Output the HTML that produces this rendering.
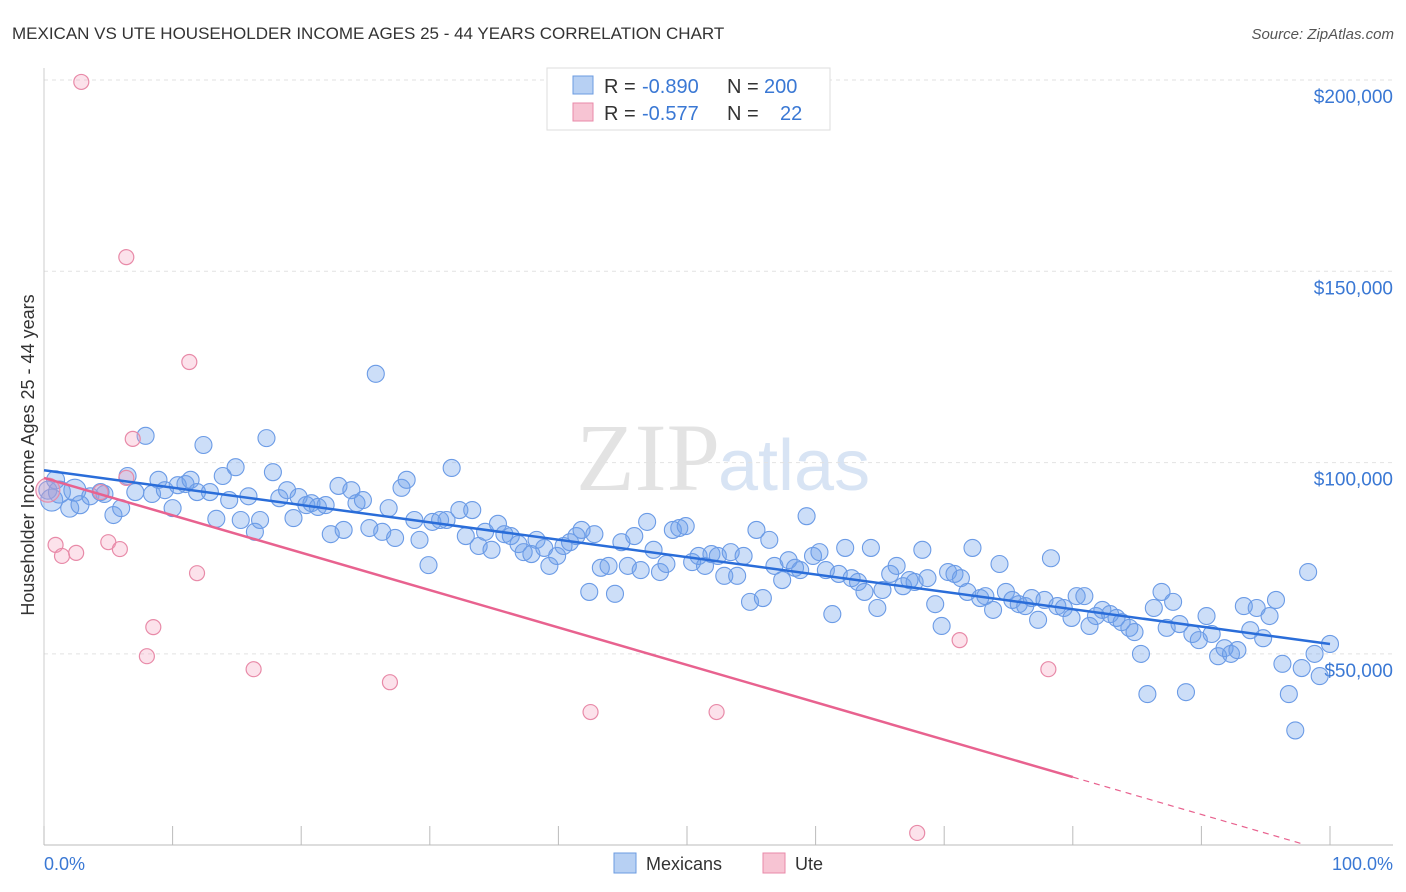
<!DOCTYPE html>
<html><head><meta charset="utf-8"><style>
body{margin:0;background:#fff;font-family:"Liberation Sans",sans-serif;}
svg{display:block}
</style></head><body>
<svg id="chart" width="1406" height="892">
<text x="12" y="39" font-size="17" fill="#333">MEXICAN VS UTE HOUSEHOLDER INCOME AGES 25 - 44 YEARS CORRELATION CHART</text>
<text x="1394" y="39" font-size="15" fill="#555" text-anchor="end" font-style="italic">Source: ZipAtlas.com</text>
<text x="720" y="490" font-size="96" fill="#e3e3e3" text-anchor="end" font-family="Liberation Serif">ZIP</text>
<text x="718" y="490" font-size="72" fill="#d8e4f4">atlas</text>
<g id="grid"></g>
<g id="axes"></g>
<g id="points"></g>
<g id="lines"></g>
<text transform="translate(34,455) rotate(-90)" font-size="18" fill="#333" text-anchor="middle">Householder Income Ages 25 - 44 years</text>
<text x="44" y="870" font-size="18" fill="#3a78d4">0.0%</text>
<text x="1393" y="870" font-size="18" fill="#3a78d4" text-anchor="end">100.0%</text>
<g>
<rect x="547" y="68" width="283" height="62" fill="#fff" stroke="#ddd"/>
<rect x="573" y="76" width="20" height="18" fill="#b7d0f3" stroke="#6b9be0"/>
<rect x="573" y="103" width="20" height="18" fill="#f7c4d3" stroke="#e88aa8"/>
<text y="93" font-size="20" fill="#333"><tspan x="604">R =</tspan><tspan x="642" fill="#3a78d4">-0.890</tspan><tspan x="727">N =</tspan><tspan x="764" fill="#3a78d4">200</tspan></text>
<text y="120" font-size="20" fill="#333"><tspan x="604">R =</tspan><tspan x="642" fill="#3a78d4">-0.577</tspan><tspan x="727">N =</tspan><tspan x="780" fill="#3a78d4">22</tspan></text>
</g>
<g>
<rect x="614" y="853" width="22" height="20" fill="#b7d0f3" stroke="#6b9be0"/>
<text x="646" y="870" font-size="18" fill="#333">Mexicans</text>
<rect x="763" y="853" width="22" height="20" fill="#f7c4d3" stroke="#e88aa8"/>
<text x="795" y="870" font-size="18" fill="#333">Ute</text>
</g>
</svg>
<script>
const yTicks=[50000,100000,150000,200000];
const yTickLabels=["$50,000","$100,000","$150,000","$200,000"];
const mexX=[0.3,0.6,0.9,1.2,2.0,2.4,2.8,3.6,4.4,4.7,5.4,6.0,6.5,7.1,7.9,8.4,8.9,9.4,10,10.4,11,11.4,11.9,12.4,12.9,13.4,13.9,14.4,14.9,15.3,15.9,16.4,16.8,17.3,17.8,18.3,18.9,19.4,19.8,20.4,20.8,21.3,21.9,22.3,22.9,23.3,23.9,24.3,24.8,25.3,25.8,26.3,26.8,27.3,27.8,28.2,28.8,29.2,29.9,30.2,30.8,31.3,31.7,32.3,32.8,33.3,33.8,34.3,34.8,35.3,35.8,36.3,36.9,37.3,37.9,38.3,38.9,39.3,39.9,40.4,40.9,41.4,41.8,42.4,42.8,43.3,43.9,44.4,44.9,45.4,45.9,46.4,46.9,47.4,47.9,48.4,48.9,49.4,49.9,50.4,50.9,51.4,51.9,52.4,52.9,53.4,53.9,54.4,54.9,55.4,55.9,56.4,56.8,57.4,57.9,58.4,58.8,59.3,59.8,60.3,60.8,61.3,61.8,62.3,62.8,63.3,63.8,64.3,64.8,65.2,65.8,66.3,66.8,67.3,67.7,68.3,68.7,69.3,69.8,70.3,70.8,71.3,71.8,72.2,72.8,73.2,73.8,74.3,74.8,75.3,75.8,76.3,76.8,77.3,77.8,78.3,78.8,79.3,79.9,80.3,80.9,81.3,81.8,82.3,82.9,83.4,83.8,84.4,84.8,85.3,85.8,86.3,86.9,87.3,87.8,88.3,88.8,89.3,89.8,90.4,90.8,91.3,91.8,92.3,92.8,93.3,93.8,94.3,94.8,95.3,95.8,96.3,96.8,97.3,97.8,98.3,98.8,99.2,100];
const mexY=[92.8,90.2,95.5,92.3,88.1,92.8,89,91.2,92.3,91.8,86.3,88.1,96.5,92.3,107,91.8,95.5,92.8,88.1,94.1,94.4,95.5,92.3,104.6,92.3,85.3,96.5,90.2,98.8,85,91.2,81.9,85,106.4,97.5,90.7,92.8,85.5,91,88.9,89.4,88.4,88.9,81.3,93.9,82.4,92.8,89.4,90.2,82.9,123.2,81.9,88.1,80.3,93.4,95.5,85,79.8,73.2,84.5,85,85,98.6,87.6,80.8,87.6,78.2,81.9,77.2,84,81.3,80.8,78.7,76.6,76.1,79.8,77.7,73,75.6,78.2,79.2,80.8,82.4,66.2,81.3,72.5,73,65.7,79.2,73,80.8,71.9,84.5,77.2,71.4,73.5,82.4,82.9,83.4,74,75.6,73,76.1,75.6,70.4,76.6,70.4,75.6,63.6,82.4,64.6,79.8,73,69.3,74.5,72.5,71.9,86,75.6,76.6,71.9,60.4,70.9,77.7,69.8,68.8,66.2,77.7,62,66.7,70.9,73,67.7,69.3,68.8,77.2,69.8,63,57.3,71.4,70.9,69.8,66.2,77.7,64.6,65.1,61.5,73.5,66.2,64.1,63,62.5,64.6,58.9,64.1,75,62.5,62,59.4,65.1,65.1,57.3,59.9,61.5,60.4,59.4,58.3,56.8,55.7,50,39.5,62,66.2,56.8,63.6,57.8,40,55.2,53.6,59.9,55.2,49.4,51.5,50,51,62.5,56.2,62,54.1,59.9,64.1,47.4,39.5,30,46.3,71.4,50,44.2,52.6];
const uteX=[0.3,2.9,6.4,11.3,6.9,6.4,4.4,0.9,1.4,2.5,5,5.9,11.9,8.5,8,16.3,26.9,42.5,52.3,71.2,78.1,67.9];
const uteY=[92.8,199.5,153.7,126.3,106.2,96,92.3,78.5,75.6,76.4,79.2,77.4,71.1,57,49.4,46,42.6,34.8,34.8,53.6,46,3.2];
const mexTrend=[98,52.6];
const uteTrend=[96,-1.75];
const NS="http://www.w3.org/2000/svg";
const X=p=>44+p*12.86;
const Y=k=>80+(200-k)*3.826;
function mk(t,a,parent){const e=document.createElementNS(NS,t);for(const k in a)e.setAttribute(k,a[k]);document.getElementById(parent).appendChild(e);return e;}
yTicks.forEach((v,i)=>{
 const g=mk('line',{x1:44,x2:1393,y1:Y(v/1000),y2:Y(v/1000),stroke:'#e2e2e2','stroke-dasharray':'4,4'},'grid');
 
 
 const t=mk('text',{x:1393,y:Y(v/1000)+23,'font-size':19,fill:'#3a78d4','text-anchor':'end'},'grid');
 t.textContent=yTickLabels[i];
 
 
});
const ax=mk('line',{x1:44,x2:1393,y1:845,y2:845,stroke:'#bbb'},'axes');


const ay=mk('line',{x1:44,x2:44,y1:68,y2:845,stroke:'#ccc'},'axes');


for(let i=0;i<=10;i++){
 const t=mk('line',{x1:X(i*10),x2:X(i*10),y1:826,y2:845,stroke:'#bbb'},'axes');
 
 
}
mexX.forEach((x,i)=>{
 const r=(x<3)?(i%2?11:9):8.5;
 const c=mk('circle',{cx:X(x),cy:Y(mexY[i]),r:r,fill:'rgba(110,160,235,0.35)',stroke:'#6b9be6','stroke-width':1.1},'points');
 
 
});
uteX.forEach((x,i)=>{
 const c=mk('circle',{cx:X(x),cy:Y(uteY[i]),r:i==0?12:7.5,fill:'rgba(245,160,190,0.3)',stroke:'#e88aa8','stroke-width':1.2},'points');
 
 
});
const ml=mk('line',{x1:X(0),y1:Y(mexTrend[0]),x2:X(100),y2:Y(mexTrend[1]),stroke:'#2a6dd9','stroke-width':2.5},'lines');


const uy=p=>uteTrend[0]+(uteTrend[1]-uteTrend[0])*p/100;
const ul=mk('line',{x1:X(0),y1:Y(uy(0)),x2:X(80),y2:Y(uy(80)),stroke:'#e8628f','stroke-width':2.5},'lines');


const ud=mk('line',{x1:X(80),y1:Y(uy(80)),x2:X(98),y2:Y(uy(98)),stroke:'#e8628f','stroke-width':1.2,'stroke-dasharray':'6,5'},'lines');


</script>
</body></html>
